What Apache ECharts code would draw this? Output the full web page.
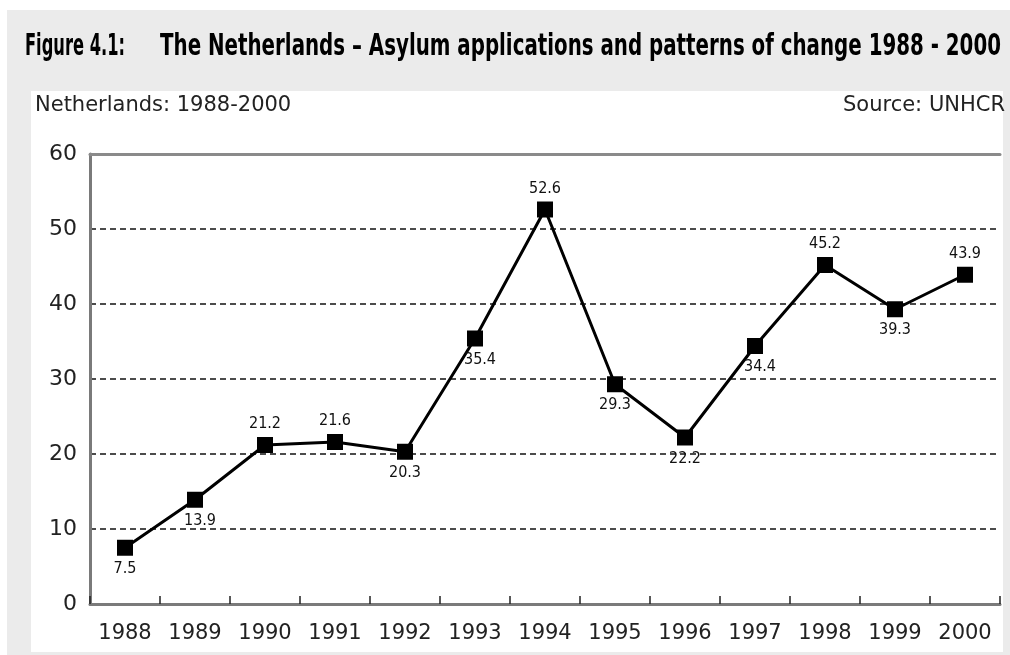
<!DOCTYPE html>
<html>
<head>
<meta charset="utf-8">
<script src="https://cdn.jsdelivr.net/npm/echarts@6/dist/echarts.min.js"></script>
<style>
html,body{margin:0;padding:0;background:#fff;}
#chart{width:1010px;height:655px;}
</style>
</head>
<body>
<div id="chart"></div>
<script>
const years = ['1988','1989','1990','1991','1992','1993','1994','1995','1996','1997','1998','1999','2000'];
const applications = [7.5, 13.9, 21.2, 21.6, 20.3, 35.4, 52.6, 29.3, 22.2, 34.4, 45.2, 39.3, 43.9];
const yTicks = [0, 10, 20, 30, 40, 50, 60];

const titleFigure = 'Figure 4.1:';
const titleMain = 'The Netherlands \u2013 Asylum applications and patterns of change 1988 - 2000';
const subLeft = 'Netherlands: 1988-2000';
const subRight = 'Source: UNHCR';

const chart = echarts.init(document.getElementById('chart'));

function labelSide(i) {
  const v = applications[i];
  const prev = applications[i - 1];
  const next = applications[i + 1];
  if (prev === undefined || v < prev) return 'bottom';
  if (next === undefined || v >= next - 1) return 'top';
  return 'bottom';
}

const seriesData = applications.map((v, i) => {
  const side = labelSide(i);
  const rising = i > 0 && v > applications[i - 1];
  return {
    value: v,
    label: { position: side, offset: (side === 'bottom' && rising) ? [5, 0] : [0, 0] }
  };
});

const bodyFont = '"DejaVu Sans", sans-serif';
const labelFont = '"DejaVu Sans Condensed", sans-serif';

// fit title pieces horizontally into their spans (emulating a condensed typeface)
const measureCtx = document.createElement('canvas').getContext('2d');
function textWidth(txt, font) { measureCtx.font = font; return measureCtx.measureText(txt).width; }
const tFont = 'bold 30px "DejaVu Sans Condensed", sans-serif';
const figScale = 100 / textWidth(titleFigure, tFont);
const mainScale = 841 / textWidth(titleMain, tFont);

chart.setOption({
  backgroundColor: '#fff',
  animation: false,
  graphic: [
    { type: 'rect', z: -10, shape: { x: 7, y: 10, width: 1003, height: 645 }, style: { fill: '#ebebeb' } },
    { type: 'rect', z: -9, shape: { x: 31, y: 91, width: 972, height: 561 }, style: { fill: '#ffffff' } },
    { type: 'text', x: 25, y: 47, scaleX: figScale, style: { text: titleFigure, font: tFont, fill: '#000', textVerticalAlign: 'middle', textAlign: 'left' } },
    { type: 'text', x: 1001, y: 47, scaleX: mainScale, style: { text: titleMain, font: tFont, fill: '#000', textVerticalAlign: 'middle', textAlign: 'right' } }
  ],
  title: [
    { text: subLeft, left: 35, top: 95, textStyle: { fontFamily: bodyFont, fontWeight: 'normal', fontSize: 21, color: '#222' }, padding: 0 },
    { text: subRight, right: 5, top: 95, textStyle: { fontFamily: bodyFont, fontWeight: 'normal', fontSize: 21, color: '#222' }, padding: 0 }
  ],
  grid: { left: 90, top: 154, width: 910, height: 450, containLabel: false },
  xAxis: [
    {
      type: 'category',
      data: years,
      boundaryGap: true,
      axisLine: { show: true, lineStyle: { color: '#7a7a7a', width: 3 } },
      axisTick: { show: true, inside: true, length: 8, alignWithLabel: false, lineStyle: { color: '#222', width: 1.5 } },
      axisLabel: { margin: 19, fontFamily: bodyFont, fontSize: 21, color: '#222' },
      splitLine: { show: false }
    },
    {
      type: 'category',
      data: years,
      position: 'top',
      axisLine: { show: true, lineStyle: { color: '#8a8a8a', width: 3 } },
      axisTick: { show: false },
      axisLabel: { show: false },
      splitLine: { show: false }
    }
  ],
  yAxis: {
    type: 'value',
    min: yTicks[0],
    max: yTicks[yTicks.length - 1],
    interval: yTicks[1] - yTicks[0],
    axisLine: { show: true, lineStyle: { color: '#7a7a7a', width: 3 } },
    axisTick: { show: false },
    axisLabel: { margin: 13, fontFamily: bodyFont, fontSize: 22, color: '#222' },
    splitLine: { show: true, lineStyle: { color: '#111', width: 1.5, type: [6, 4] } }
  },
  series: [
    {
      type: 'line',
      data: seriesData,
      symbol: 'rect',
      symbolSize: 16,
      lineStyle: { color: '#000', width: 3 },
      itemStyle: { color: '#000' },
      label: {
        show: true,
        distance: 5,
        fontFamily: labelFont,
        fontSize: 16,
        color: '#111',
        formatter: p => p.value.toFixed(1)
      },
      z: 5
    }
  ]
});
</script>
</body>
</html>
